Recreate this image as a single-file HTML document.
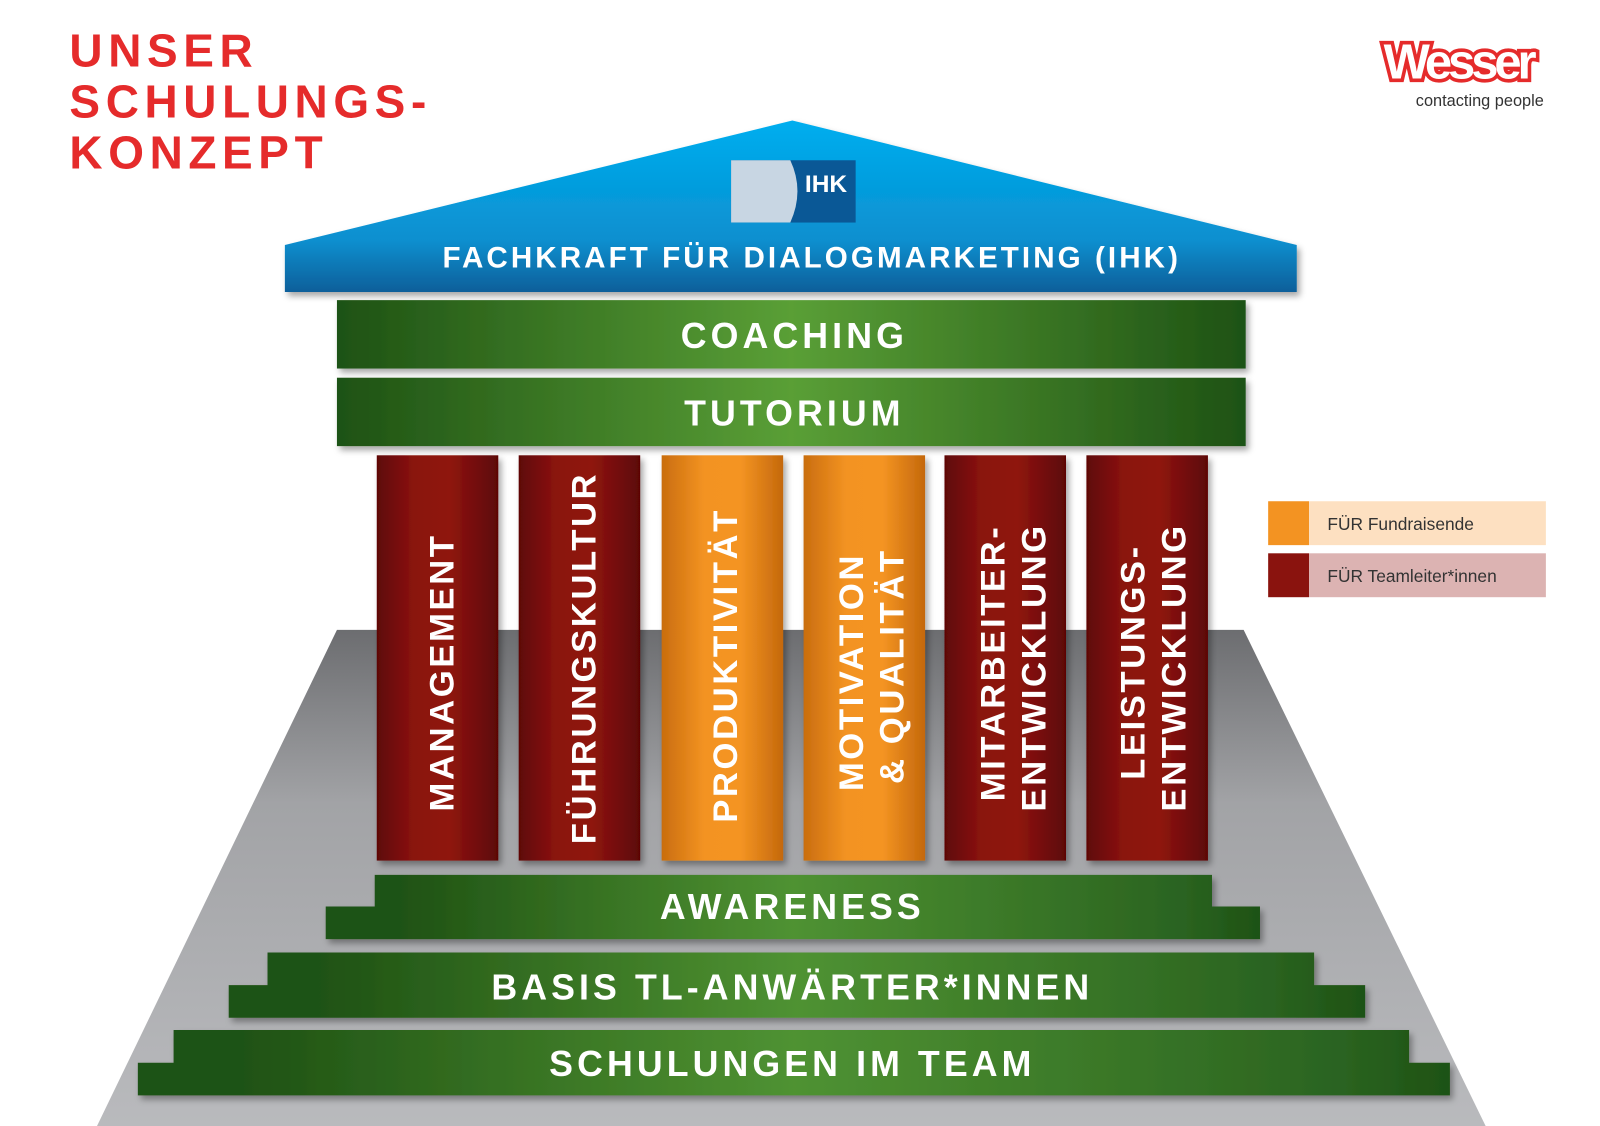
<!DOCTYPE html>
<html><head><meta charset="utf-8"><style>
html,body{margin:0;padding:0;background:#fff;width:1600px;height:1126px;overflow:hidden}
svg{display:block}
text{font-family:"Liberation Sans","DejaVu Sans",sans-serif;font-weight:bold}
</style></head><body>
<svg width="1600" height="1126" viewBox="0 0 1567 1103" preserveAspectRatio="none" xmlns="http://www.w3.org/2000/svg">
<defs>
<linearGradient id="grey" x1="0" y1="0" x2="0" y2="1"><stop offset="0" stop-color="#6c6d70"/><stop offset="0.35" stop-color="#a2a3a6"/><stop offset="1" stop-color="#b9babd"/></linearGradient>
<linearGradient id="blue" x1="0" y1="0" x2="0" y2="1"><stop offset="0" stop-color="#00aeef"/><stop offset="0.7" stop-color="#0a8fcf"/><stop offset="1" stop-color="#0b5f9a"/></linearGradient>
<linearGradient id="green" x1="0" y1="0" x2="1" y2="0"><stop offset="0" stop-color="#1e5214"/><stop offset="0.5" stop-color="#5a9f36"/><stop offset="1" stop-color="#1e5214"/></linearGradient>
<linearGradient id="green2" x1="0" y1="0" x2="1" y2="0"><stop offset="0" stop-color="#1e5214"/><stop offset="0.08" stop-color="#1f5214"/><stop offset="0.5" stop-color="#4f9232"/><stop offset="0.92" stop-color="#2a6320"/><stop offset="1" stop-color="#1e5214"/></linearGradient>
<linearGradient id="red" x1="0" y1="0" x2="1" y2="0"><stop offset="0" stop-color="#5e0606"/><stop offset="0.3" stop-color="#8a130e"/><stop offset="0.6" stop-color="#8f150f"/><stop offset="1" stop-color="#5c0606"/></linearGradient>
<linearGradient id="orange" x1="0" y1="0" x2="1" y2="0"><stop offset="0" stop-color="#c96d0e"/><stop offset="0.35" stop-color="#f39322"/><stop offset="0.65" stop-color="#f49422"/><stop offset="1" stop-color="#c4680c"/></linearGradient>
<filter id="sh" x="-10%" y="-10%" width="130%" height="130%"><feDropShadow dx="3" dy="4" stdDeviation="3" flood-color="#000" flood-opacity="0.35"/></filter>
</defs>

<!-- title -->
<text x="68" y="65" font-size="45" fill="#e52b2b" letter-spacing="5.5">UNSER</text>
<text x="68" y="115" font-size="45" fill="#e52b2b" letter-spacing="5.5">SCHULUNGS-</text>
<text x="68" y="165" font-size="45" fill="#e52b2b" letter-spacing="5.5">KONZEPT</text>

<!-- logo -->
<text x="1428" y="77" font-size="48" fill="#fff" stroke="#e52b2b" stroke-width="7" paint-order="stroke" text-anchor="middle" letter-spacing="-4" font-family="Liberation Sans">Wesser</text>
<text x="1512" y="104" font-size="16" fill="#333" text-anchor="end" style="font-weight:normal">contacting people</text>

<!-- platform -->
<polygon points="330,617 1218,617 1455,1103 95,1103" fill="url(#grey)"/>

<!-- roof -->
<g filter="url(#sh)">
<polygon points="776,118 1270,240 1270,286 279,286 279,240" fill="url(#blue)"/>
</g>
<rect x="716" y="157" width="122" height="61" fill="#0a5896"/>
<path d="M716,157 H774 Q788,187 774,218 H716 Z" fill="#c8d6e3"/>
<text x="809" y="188" font-size="24" fill="#fff" text-anchor="middle">IHK</text>
<text x="795" y="262" font-size="29" fill="#fff" text-anchor="middle" letter-spacing="3">FACHKRAFT FÜR DIALOGMARKETING (IHK)</text>

<!-- coaching / tutorium -->
<rect x="330" y="294" width="890" height="67" fill="url(#green)" filter="url(#sh)"/>
<text x="778" y="341" font-size="35" fill="#fff" text-anchor="middle" letter-spacing="4">COACHING</text>
<rect x="330" y="370" width="890" height="67" fill="url(#green)" filter="url(#sh)"/>
<text x="778" y="417" font-size="35" fill="#fff" text-anchor="middle" letter-spacing="4">TUTORIUM</text>

<!-- columns -->
<g filter="url(#sh)">
<rect x="369" y="446" width="119" height="397" fill="url(#red)"/>
<rect x="508" y="446" width="119" height="397" fill="url(#red)"/>
<rect x="648" y="446" width="119" height="397" fill="url(#orange)"/>
<rect x="787" y="446" width="119" height="397" fill="url(#orange)"/>
<rect x="925" y="446" width="119" height="397" fill="url(#red)"/>
<rect x="1064" y="446" width="119" height="397" fill="url(#red)"/>
</g>
<g font-size="34" fill="#fff" letter-spacing="2.5">
<text transform="translate(444,795) rotate(-90)">MANAGEMENT</text>
<text transform="translate(583,827) rotate(-90)">FÜHRUNGSKULTUR</text>
<text transform="translate(722,806) rotate(-90)">PRODUKTIVITÄT</text>
<text transform="translate(845,775) rotate(-90)">MOTIVATION</text>
<text transform="translate(885,768) rotate(-90)">&amp; QUALITÄT</text>
<text transform="translate(984,785) rotate(-90)">MITARBEITER-</text>
<text transform="translate(1024,795) rotate(-90)">ENTWICKLUNG</text>
<text transform="translate(1121,764) rotate(-90)">LEISTUNGS-</text>
<text transform="translate(1161,795) rotate(-90)">ENTWICKLUNG</text>
</g>

<!-- steps -->
<g filter="url(#sh)">
<path d="M367,857 H1187 V888 H1234 V920 H319 V888 H367 Z" fill="url(#green2)"/>
<path d="M262,933 H1287 V965 H1337 V997 H224 V965 H262 Z" fill="url(#green2)"/>
<path d="M170,1009 H1380 V1041 H1420 V1073 H135 V1041 H170 Z" fill="url(#green2)"/>
</g>
<text x="776" y="900" font-size="35" fill="#fff" text-anchor="middle" letter-spacing="4">AWARENESS</text>
<text x="776" y="979" font-size="35" fill="#fff" text-anchor="middle" letter-spacing="4">BASIS TL-ANWÄRTER*INNEN</text>
<text x="776" y="1054" font-size="35" fill="#fff" text-anchor="middle" letter-spacing="4">SCHULUNGEN IM TEAM</text>

<!-- legend -->
<rect x="1282" y="491" width="232" height="43" fill="#fde0c1"/>
<rect x="1242" y="491" width="40" height="43" fill="#f39322"/>
<rect x="1282" y="542" width="232" height="43" fill="#dcb3b2"/>
<rect x="1242" y="542" width="40" height="43" fill="#8a130e"/>
<text x="1300" y="519" font-size="17" fill="#333" style="font-weight:normal">FÜR Fundraisende</text>
<text x="1300" y="570" font-size="17" fill="#333" style="font-weight:normal">FÜR Teamleiter*innen</text>
</svg>
</body></html>
